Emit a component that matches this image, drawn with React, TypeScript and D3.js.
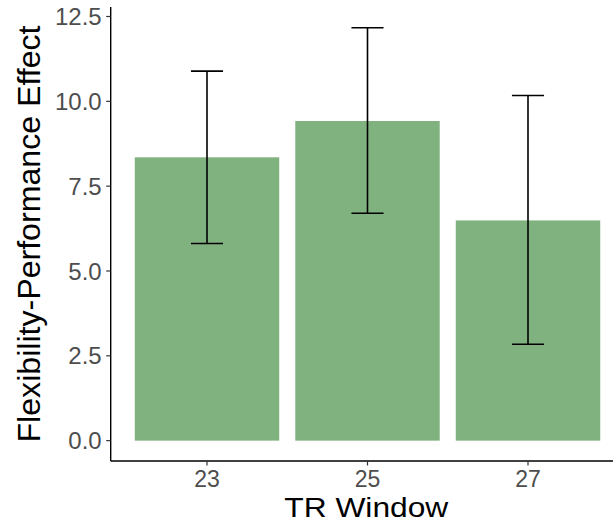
import React from 'react';
import * as d3 from 'd3';

const categories = ['23', '25', '27'];
const effects = [8.35, 9.42, 6.49];
const errLow = [5.81, 6.70, 2.84];
const errHigh = [10.89, 12.17, 10.17];
const yTicks = [0, 2.5, 5, 7.5, 10, 12.5];

const App = () => {
  const width = 613;
  const height = 525;
  const panel = { left: 110.7, right: 624.3, top: 7, bottom: 461 };

  // discrete x scale with ggplot-like 0.6 expansion
  const x = d3.scalePoint<string>()
    .domain(categories)
    .range([panel.left, panel.right])
    .padding(0.6);
  const step = x.step();

  const y = d3.scaleLinear()
    .domain([-0.6, 12.78])
    .range([panel.bottom, panel.top]);

  const font = '"Liberation Sans", Arial, Helvetica, sans-serif';
  const barW = step * 0.9;
  const capW = step * 0.2;

  return (
    <svg width={width} height={height} style={{ position: 'absolute', left: 0, top: 0 }}>
      <rect width={width} height={height} fill="#ffffff" />

      {/* bars */}
      {categories.map((c, i) => (
        <rect
          key={'bar' + c}
          x={x(c)! - barW / 2}
          y={y(effects[i])}
          width={barW}
          height={y(0) - y(effects[i])}
          fill="#80b280"
        />
      ))}

      {/* error bars */}
      {categories.map((c, i) => {
        const cx = x(c)!;
        return (
          <g key={'err' + c} stroke="#000" strokeWidth={1.6} fill="none">
            <line x1={cx} x2={cx} y1={y(errLow[i])} y2={y(errHigh[i])} />
            <line x1={cx - capW / 2} x2={cx + capW / 2} y1={y(errHigh[i])} y2={y(errHigh[i])} />
            <line x1={cx - capW / 2} x2={cx + capW / 2} y1={y(errLow[i])} y2={y(errLow[i])} />
          </g>
        );
      })}

      {/* axes */}
      <line x1={panel.left} x2={panel.left} y1={panel.top} y2={panel.bottom} stroke="#000" strokeWidth={1.4} />
      <line x1={panel.left} x2={width} y1={panel.bottom} y2={panel.bottom} stroke="#000" strokeWidth={1.4} />

      {yTicks.map(t => (
        <g key={'yt' + t}>
          <line x1={panel.left - 4.5} x2={panel.left} y1={y(t)} y2={y(t)} stroke="#333" strokeWidth={1.2} />
          <text
            x={panel.left - 9}
            y={y(t)}
            dy="0.36em"
            textAnchor="end"
            fontFamily={font}
            fontSize={24}
            fill="#4d4d4d"
          >
            {t.toFixed(1)}
          </text>
        </g>
      ))}

      {categories.map(c => (
        <g key={'xt' + c}>
          <line x1={x(c)} x2={x(c)} y1={panel.bottom} y2={panel.bottom + 4.5} stroke="#333" strokeWidth={1.2} />
          <text
            x={x(c)}
            y={487}
            textAnchor="middle"
            fontFamily={font}
            fontSize={23}
            fill="#4d4d4d"
          >
            {c}
          </text>
        </g>
      ))}

      {/* axis titles */}
      <text
        x={366.3}
        y={517}
        textAnchor="middle"
        fontFamily={font}
        fontSize={27}
        textLength={164}
        lengthAdjust="spacingAndGlyphs"
        fill="#000"
      >
        TR Window
      </text>
      <text
        transform={`translate(40,234) rotate(-90)`}
        textAnchor="middle"
        fontFamily={font}
        fontSize={31}
        textLength={417}
        lengthAdjust="spacingAndGlyphs"
        fill="#000"
      >
        Flexibility-Performance Effect
      </text>
    </svg>
  );
};

export default App;
